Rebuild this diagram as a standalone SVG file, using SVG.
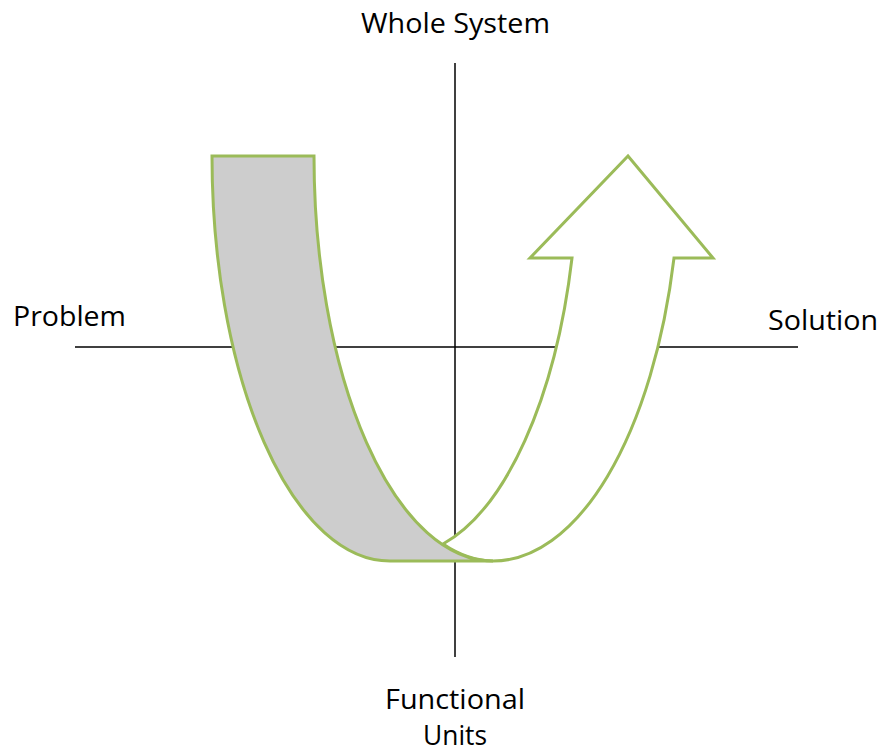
<svg xmlns="http://www.w3.org/2000/svg" width="883" height="755" viewBox="0 0 883 755">
<style>
.axis{stroke:#000;stroke-width:1.5;fill:none}
.shape{stroke:#9BBB59;stroke-width:3;stroke-linejoin:miter}
.lbl{font-family:"Open Sans","Liberation Sans",sans-serif;font-size:27px;fill:#000}
</style>
<rect width="883" height="755" fill="#fff"/>
<g id="connectors">
<line class="axis" x1="75" y1="347" x2="798" y2="347"/>
<line class="axis" x1="455" y1="63" x2="455" y2="657"/>
</g>
<g id="solution-arrow">
<path class="shape" fill="#fff" d="M493,561 A187,405 0 0 0 674,258 L713,258 L628,156 L530,258 L572,258 A178,400 0 0 1 443,544 A179,405 0 0 0 493,561 Z"/>
</g>
<g id="problem-band">
<path class="shape" fill="#CDCDCD" d="M212,156 A178,405 0 0 0 390,561 L493,561 A179,405 0 0 1 314,156 Z"/>
</g>
<g id="label-whole-system"><text class="lbl" x="361" y="33" textLength="189" lengthAdjust="spacingAndGlyphs">Whole System</text></g>
<g id="label-problem"><text class="lbl" x="13" y="326" textLength="113" lengthAdjust="spacingAndGlyphs">Problem</text></g>
<g id="label-solution"><text class="lbl" x="768" y="330" textLength="110" lengthAdjust="spacingAndGlyphs">Solution</text></g>
<g id="label-functional-units">
<text class="lbl" x="385" y="709" textLength="140" lengthAdjust="spacingAndGlyphs">Functional</text>
<text class="lbl" x="423" y="745" textLength="64" lengthAdjust="spacingAndGlyphs">Units</text>
</g>
</svg>
